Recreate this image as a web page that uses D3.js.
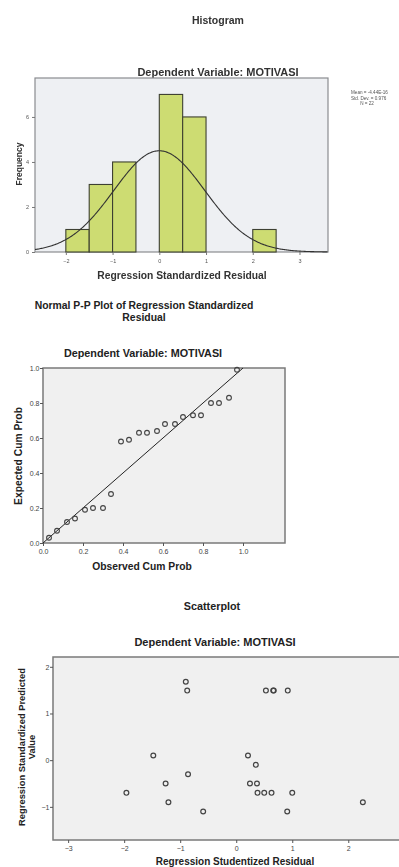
<!DOCTYPE html>
<html><head><meta charset="utf-8">
<script src="https://cdn.jsdelivr.net/npm/d3@7"></script>
<style>
html,body{margin:0;padding:0;background:#fff;overflow:hidden}
svg{display:block;font-family:"Liberation Sans",Arial,sans-serif}
</style></head><body>
<svg id="c" width="399" height="867"></svg>
<script>
// ---------- DATA ----------
// Histogram
const histLower = [-2.0, -1.5, -1.0, -0.5, 0.0, 0.5, 1.0, 1.5, 2.0];
const histFreq  = [1, 3, 4, 0, 7, 6, 0, 0, 1];
const histBinWidth = 0.5;
const histMean = 0;
const histSD = 0.976;
const histN = 22;
const histXTicks = [-2, -1, 0, 1, 2, 3];
const histYTicks = [0, 2, 4, 6];
const histLegend = ["Mean = -4.44E-16", "Std. Dev. = 0.976", "N = 22"];

// Normal P-P plot
const ppObserved = [0.03,0.07,0.12,0.16,0.21,0.25,0.30,0.34,0.39,0.43,0.48,0.52,0.57,0.61,0.66,0.70,0.75,0.79,0.84,0.88,0.93,0.97];
const ppExpected = [0.03,0.07,0.12,0.14,0.19,0.20,0.20,0.28,0.58,0.59,0.63,0.63,0.64,0.68,0.68,0.72,0.73,0.73,0.80,0.80,0.83,0.99];
const ppTicks = [0.0, 0.2, 0.4, 0.6, 0.8, 1.0];

// Scatterplot
const scX = [-0.90,-0.875,0.53,0.66,0.67,0.92,-1.48,0.21,0.35,-0.86,-1.26,0.245,0.37,-1.96,0.38,0.50,0.63,1.00,-1.21,2.26,-0.59,0.91];
const scY = [1.68,1.49,1.49,1.49,1.49,1.49,0.10,0.10,-0.10,-0.30,-0.50,-0.50,-0.50,-0.70,-0.70,-0.70,-0.70,-0.70,-0.90,-0.90,-1.10,-1.10];
const scXTicks = [-3, -2, -1, 0, 1, 2];
const scYTicks = [-1, 0, 1, 2];

// ---------- DRAW ----------
const svg = d3.select("#c");
const defs = svg.append("defs");
defs.append("filter").attr("id","soft").attr("filterUnits","userSpaceOnUse")
  .attr("x",0).attr("y",0).attr("width",399).attr("height",300)
  .append("feGaussianBlur").attr("stdDeviation",0.6);

function txt(g, x, y, s, size, opts={}) {
  const t = g.append("text").attr("x", x).attr("y", y).text(s)
    .attr("font-size", size).attr("font-weight", opts.weight || "bold")
    .attr("fill", opts.fill || "#222").attr("text-anchor", opts.anchor || "middle");
  if (opts.rotate) t.attr("transform", `rotate(-90,${x},${y})`);
  return t;
}

// ===== Histogram =====
const H = svg.append("g").attr("filter","url(#soft)");
const hx = d3.scaleLinear().domain([-2.66, 3.61]).range([35, 328]);
const hy = d3.scaleLinear().domain([0, 7.73]).range([252, 78]);
txt(H, 218, 24, "Histogram", 10.5, {fill:"#333"});
txt(H, 218, 76, "Dependent Variable: MOTIVASI", 11, {fill:"#333"});
H.append("rect").attr("x", 35).attr("y", 78).attr("width", 293).attr("height", 174)
  .attr("fill", "#eef0f3").attr("stroke", "#8a8c90").attr("stroke-width", 1.2);
H.selectAll("rect.bar").data(histLower.map((l,i)=>({l, f:histFreq[i]})).filter(d=>d.f>0))
  .enter().append("rect").attr("class","bar")
  .attr("x", d=>hx(d.l)).attr("width", d=>hx(d.l+histBinWidth)-hx(d.l))
  .attr("y", d=>hy(d.f)).attr("height", d=>hy(0)-hy(d.f))
  .attr("fill", "#cddc72").attr("stroke", "#3d4030").attr("stroke-width", 1.1);
const curvePts = d3.range(-2.66, 3.61, 0.02).map(x => [x,
  histN * histBinWidth * Math.exp(-0.5*((x-histMean)/histSD)**2) / (histSD*Math.sqrt(2*Math.PI))]);
H.append("path").attr("d", d3.line().x(d=>hx(d[0])).y(d=>hy(d[1]))(curvePts))
  .attr("fill","none").attr("stroke","#333").attr("stroke-width",1.1);
const hxa = H.append("g").attr("transform","translate(0,252)")
  .call(d3.axisBottom(hx).tickValues(histXTicks).tickSize(3).tickFormat(d3.format("d")));
const hya = H.append("g").attr("transform","translate(35,0)")
  .call(d3.axisLeft(hy).tickValues(histYTicks).tickSize(3).tickFormat(d3.format("d")));
[hxa, hya].forEach(a => {
  a.select(".domain").remove();
  a.selectAll("line").attr("stroke","#777");
  a.selectAll("text").attr("font-size",5.5).attr("fill","#555").attr("font-family","Liberation Sans, Arial");
});
hxa.selectAll("text").attr("dy","0.9em");
txt(H, 182, 279, "Regression Standardized Residual", 10.3, {fill:"#333"});
txt(H, 22, 164, "Frequency", 8.5, {fill:"#333", rotate:true});
histLegend.forEach((s,i) => {
  txt(H, i<2 ? 351 : 367, 94 + i*5.5, s, 4.6, {weight:"normal", fill:"#555", anchor: i<2 ? "start" : "middle"});
});

// ===== P-P Plot =====
const P = svg.append("g");
const px = d3.scaleLinear().domain([0, 1.21]).range([43, 285]);
const py = d3.scaleLinear().domain([0, 1]).range([543, 368]);
txt(P, 144, 308.5, "Normal P-P Plot of Regression Standardized", 10.4);
txt(P, 144, 320.5, "Residual", 10.4);
txt(P, 143, 357, "Dependent Variable: MOTIVASI", 10.8);
P.append("rect").attr("x",43).attr("y",368).attr("width",242).attr("height",175)
  .attr("fill","#f0f0f0").attr("stroke","#7a7a7a").attr("stroke-width",1.5);
P.append("line").attr("x1",px(0)).attr("y1",py(0)).attr("x2",px(1)).attr("y2",py(1))
  .attr("stroke","#222").attr("stroke-width",1);
P.selectAll("circle").data(ppObserved.map((o,i)=>[o, ppExpected[i]])).enter().append("circle")
  .attr("cx", d=>px(d[0])).attr("cy", d=>py(d[1])).attr("r", 2.4)
  .attr("fill","none").attr("stroke","#444").attr("stroke-width",1.1);
const pxa = P.append("g").attr("transform","translate(0,543)")
  .call(d3.axisBottom(px).tickValues(ppTicks).tickSize(3).tickFormat(d3.format(".1f")));
const pya = P.append("g").attr("transform","translate(43,0)")
  .call(d3.axisLeft(py).tickValues(ppTicks).tickSize(3).tickFormat(d3.format(".1f")));
[pxa, pya].forEach(a => {
  a.select(".domain").remove();
  a.selectAll("line").attr("stroke","#555");
  a.selectAll("text").attr("font-size",7).attr("fill","#444").attr("font-family","Liberation Sans, Arial");
});
pya.selectAll("text").attr("x",-3.5);
txt(P, 142, 570, "Observed Cum Prob", 10.3);
txt(P, 22, 456, "Expected Cum Prob", 10.3, {rotate:true});

// ===== Scatterplot =====
const S = svg.append("g");
const sx = d3.scaleLinear().domain([-3.27, 3.28]).range([53, 420]);
const sy = d3.scaleLinear().domain([-1.71, 2.21]).range([840, 657]);
txt(S, 212, 610, "Scatterplot", 10.8);
txt(S, 215, 646, "Dependent Variable: MOTIVASI", 11);
S.append("rect").attr("x",53).attr("y",657).attr("width",367).attr("height",183)
  .attr("fill","#f0f0f0").attr("stroke","#7a7a7a").attr("stroke-width",1.5);
S.selectAll("circle").data(scX.map((x,i)=>[x, scY[i]])).enter().append("circle")
  .attr("cx", d=>sx(d[0])).attr("cy", d=>sy(d[1])).attr("r", 2.4)
  .attr("fill","none").attr("stroke","#444").attr("stroke-width",1.2);
const sxa = S.append("g").attr("transform","translate(0,840)")
  .call(d3.axisBottom(sx).tickValues(scXTicks).tickSize(3).tickFormat(d3.format("d")));
const sya = S.append("g").attr("transform","translate(53,0)")
  .call(d3.axisLeft(sy).tickValues(scYTicks).tickSize(3).tickFormat(d3.format("d")));
[sxa, sya].forEach(a => {
  a.select(".domain").remove();
  a.selectAll("line").attr("stroke","#555");
  a.selectAll("text").attr("font-size",7).attr("fill","#444").attr("font-family","Liberation Sans, Arial");
});
sya.selectAll("text").attr("x",-3.5);
txt(S, 235, 865, "Regression Studentized Residual", 10);
txt(S, 25, 747, "Regression Standardized Predicted", 9.4, {rotate:true});
txt(S, 35, 747, "Value", 9.4, {rotate:true});
</script>
</body></html>
